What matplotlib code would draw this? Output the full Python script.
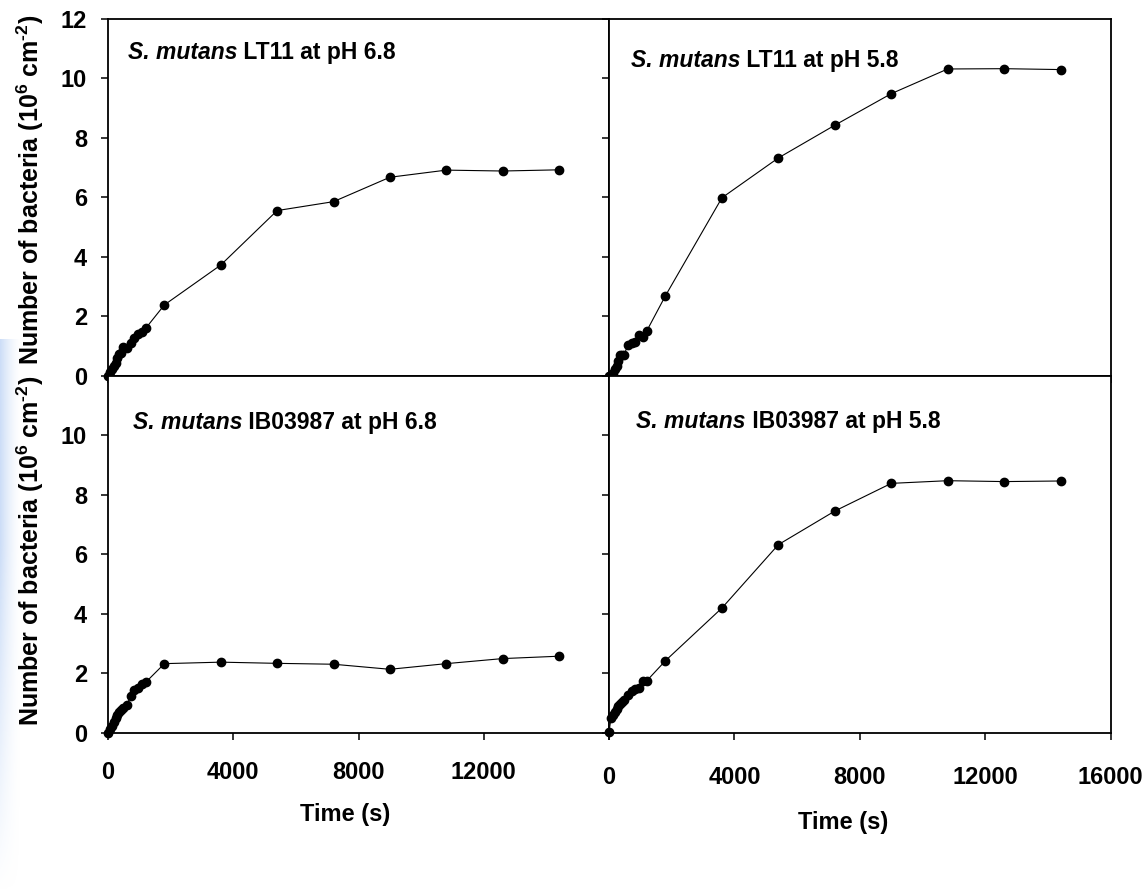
import matplotlib
matplotlib.use("Agg")
import matplotlib.pyplot as plt
import numpy as np

# sampling times (s), shared by all four runs
time_s = [0, 60, 120, 180, 240, 300, 360, 420, 480, 600, 720, 840, 960, 1080, 1200,
          1800, 3600, 5400, 7200, 9000, 10800, 12600, 14400]

# number of adhering bacteria (10^6 cm^-2)
lt11_ph68 = [0.0, 0.12, 0.25, 0.35, 0.45, 0.60, 0.75, 0.78, 0.97, 0.93, 1.12, 1.28, 1.40, 1.48, 1.60,
             2.39, 3.73, 5.56, 5.86, 6.68, 6.92, 6.89, 6.93]
lt11_ph58 = [0.0, 0.02, 0.10, 0.25, 0.35, 0.52, 0.70, 0.72, 0.71, 1.04, 1.10, 1.15, 1.38, 1.30, 1.51,
             2.70, 5.99, 7.33, 8.43, 9.49, 10.32, 10.33, 10.30]
ib_ph68 = [0.0, 0.12, 0.25, 0.38, 0.50, 0.62, 0.72, 0.78, 0.84, 0.94, 1.24, 1.45, 1.52, 1.65, 1.70,
           2.33, 2.38, 2.34, 2.31, 2.14, 2.33, 2.50, 2.58]
ib_ph58 = [0.04, 0.49, 0.60, 0.70, 0.82, 0.90, 0.97, 1.05, 1.11, 1.28, 1.40, 1.47, 1.52, 1.75, 1.75,
           2.43, 4.20, 6.33, 7.46, 8.39, 8.48, 8.45, 8.47]

titles = ["LT11 at pH 6.8", "LT11 at pH 5.8", "IB03987 at pH 6.8", "IB03987 at pH 5.8"]
series = [lt11_ph68, lt11_ph58, ib_ph68, ib_ph58]

plt.rcParams['font.family'] = ['Liberation Sans', 'DejaVu Sans']
plt.rcParams['font.weight'] = 'bold'
plt.rcParams['mathtext.fontset'] = 'custom'
plt.rcParams['mathtext.rm'] = 'Liberation Sans:bold'
plt.rcParams['mathtext.bf'] = 'Liberation Sans:bold'
plt.rcParams['mathtext.it'] = 'Liberation Sans:italic:bold'

fig = plt.figure(figsize=(11.47, 8.92), dpi=100)

# faint blue strip on the left edge (slide background)
bg = fig.add_axes([0, 0, 0.018, 0.62], zorder=-10)
gx = np.linspace(1, 0, 50) ** 1.5
gy = np.clip(np.linspace(0, 1.6, 200), 0, 1)
alpha = np.outer(gy, gx)
rgba = np.zeros((200, 50, 4))
rgba[..., 0] = 0.80
rgba[..., 1] = 0.87
rgba[..., 2] = 0.97
rgba[..., 3] = alpha
bg.imshow(rgba, aspect='auto', origin='lower', extent=[0, 1, 0, 1])
bg.axis('off')

pos = [
    [0.0942, 0.5785, 0.4368, 0.4002],
    [0.5310, 0.5785, 0.4374, 0.4002],
    [0.0942, 0.1783, 0.4368, 0.4002],
    [0.5310, 0.1783, 0.4374, 0.4002],
]
title_xy = [(0.039, 0.887), (0.043, 0.866), (0.049, 0.852), (0.054, 0.853)]

axes = []
for i, p in enumerate(pos):
    ax = fig.add_axes(p)
    ax.plot(time_s, series[i], color='black', lw=0.8, marker='o', markersize=6,
            clip_on=False, zorder=3)
    ax.set_xlim(0, 16000)
    ax.set_ylim(0, 12)
    for s in ax.spines.values():
        s.set_linewidth(1.3)
    ax.tick_params(direction='out', length=5, width=1.1, labelsize=17)
    ax.tick_params(axis='y', pad=10)
    ax.tick_params(axis='x', pad=15)
    right = i % 2 == 1
    top = i < 2
    if right:
        ax.set_xticks([0, 4000, 8000, 12000, 16000])
        ax.set_yticks([0, 2, 4, 6, 8, 10, 12])
        ax.set_yticklabels([])
    else:
        ax.set_xticks([0, 4000, 8000, 12000, 16000])
        ax.set_xticklabels(['0', '4000', '8000', '12000', ''])
        if top:
            ax.set_yticks([0, 2, 4, 6, 8, 10, 12])
        else:
            ax.set_yticks([0, 2, 4, 6, 8, 10])
    if top:
        ax.set_xticklabels([])
    for lab in ax.get_xticklabels() + ax.get_yticklabels():
        lab.set_fontweight('bold')
    # species name in italics, strain and pH upright
    t1 = ax.text(title_xy[i][0], title_xy[i][1], 'S. mutans', transform=ax.transAxes,
                 fontsize=16.5, fontweight='bold', fontstyle='italic', va='baseline', ha='left')
    ax.annotate(' ' + titles[i], xy=(1, 0), xycoords=t1, fontsize=16.5, fontweight='bold',
                va='bottom', ha='left')
    axes.append(ax)

axes[3].tick_params(axis='x', pad=19)

ylab = r'Number of bacteria (10$^{6}$ cm$^{\text{-}2}$)'
fig.text(0.026, 0.787, ylab, rotation=90, ha='center', va='center', fontsize=18, fontweight='bold')
fig.text(0.026, 0.382, ylab, rotation=90, ha='center', va='center', fontsize=18, fontweight='bold')

fig.text(0.301, 1 - 815 / 892, 'Time (s)', ha='center', va='center', fontsize=17, fontweight='bold')
fig.text(0.735, 1 - 822 / 892, 'Time (s)', ha='center', va='center', fontsize=17, fontweight='bold')

fig.savefig('out.png', dpi=100)
